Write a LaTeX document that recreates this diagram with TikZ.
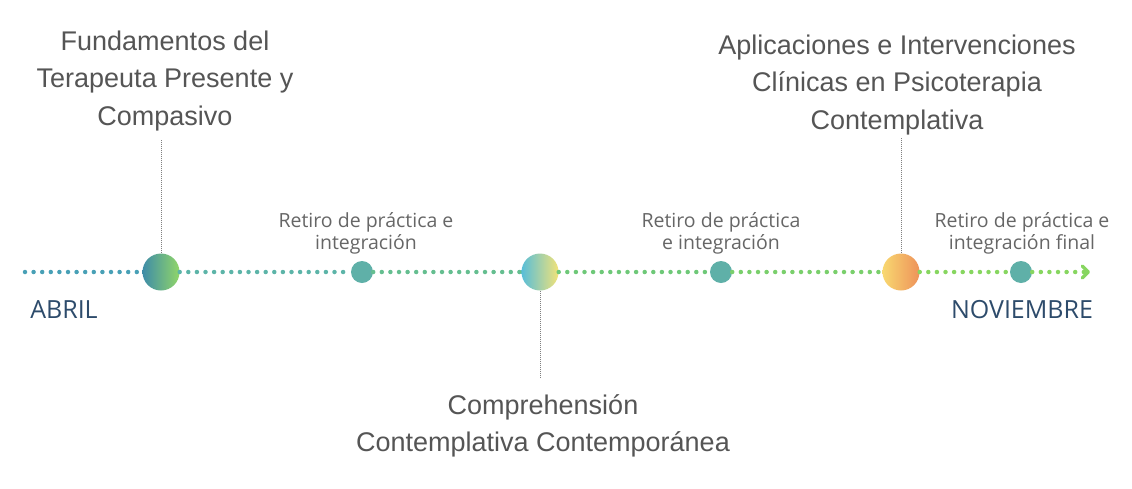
\documentclass[tikz,border=0pt]{standalone}
\usepackage{fontspec}
\setmainfont{Liberation Sans}
\newfontfamily\labelfont{Open Sans}
\usetikzlibrary{arrows.meta}
\definecolor{tgrey}{RGB}{85,85,85}
\definecolor{tnavy}{RGB}{45,75,107}
\definecolor{dblue}{RGB}{72,160,182}
\definecolor{dteal}{RGB}{92,180,168}
\definecolor{dgreen}{RGB}{110,200,120}
\definecolor{dlime}{RGB}{135,214,96}
\definecolor{rteal}{RGB}{95,176,168}
\definecolor{aleft}{RGB}{62,140,168}
\definecolor{aright}{RGB}{145,214,104}
\definecolor{bleft}{RGB}{88,190,216}
\definecolor{bright}{RGB}{242,226,120}
\definecolor{cleft}{RGB}{248,216,112}
\definecolor{cright}{RGB}{238,146,90}
\tikzset{
  dots/.style={line width=4.5pt, line cap=round, dash pattern=on 0pt off 8.6pt},
  bigdot/.style={circle, minimum size=37pt, inner sep=0pt},
  smalldot/.style={circle, fill=rteal, minimum size=22pt, inner sep=0pt},
  tick/.style={draw=gray, line width=0.8pt, dash pattern=on 1pt off 1pt},
  title/.style={align=center, text=tgrey, font=\fontsize{27}{37.5}\selectfont},
  retiro/.style={align=center, text=tgrey!90, font=\labelfont\fontsize{19.5}{22}\selectfont},
  month/.style={text=tnavy, font=\labelfont\fontsize{25}{27}\selectfont}
}
\begin{document}
\begin{tikzpicture}[x=1pt,y=-1pt]
\useasboundingbox (0,0) rectangle (1132,488);
% timeline
\coordinate (start) at (25,272);
\coordinate (stop) at (1090,272);
\node [bigdot, left color=aleft, right color=aright] (m1) at (161,272) {};
\node [smalldot] (r1) at (362,272) {};
\node [bigdot, left color=bleft, right color=bright] (m2) at (540,272) {};
\node [smalldot] (r2) at (721,272) {};
\node [bigdot, left color=cleft, right color=cright] (m3) at (901,272) {};
\node [smalldot] (r3) at (1021,272) {};
\draw [dots, dblue] (start) -- (m1);
\draw [dots, dteal] (m1) -- (r1);
\draw [dots, dteal!50!dgreen] (r1) -- (m2);
\draw [dots, dgreen] (m2) -- (r2);
\draw [dots, dgreen!50!dlime] (r2) -- (m3);
\draw [dots, dlime] (m3) -- (r3);
\draw [dots, dlime, -{Straight Barb[length=6pt, width=12pt, line width=3.5pt, round]}] (r3) -- (stop);
% titles
\node [title] (t1) at (165,81) {Fundamentos del\\Terapeuta Presente y\\Compasivo};
\node [title] (t2) at (543,426) {Comprehensión\\Contemplativa Contemporánea};
\node [title] (t3) at (897,85) {Aplicaciones e Intervenciones\\Clínicas en Psicoterapia\\Contemplativa};
\coordinate (c1) at (161,140);
\coordinate (c2) at (540,378);
\coordinate (c3) at (901,138);
\draw [tick] (m1) -- (c1);
\draw [tick] (m2) -- (c2);
\draw [tick] (m3) -- (c3);
% retiros
\node [retiro] (l1) at (366,233) {Retiro de práctica e\\integración};
\node [retiro] (l2) at (721,233) {Retiro de práctica\\e integración};
\node [retiro] (l3) at (1022,233) {Retiro de práctica e\\integración final};
% months
\node [month] (abril) at (64,310) {ABRIL};
\node [month] (nov) at (1022,310) {NOVIEMBRE};
\end{tikzpicture}
\end{document}
